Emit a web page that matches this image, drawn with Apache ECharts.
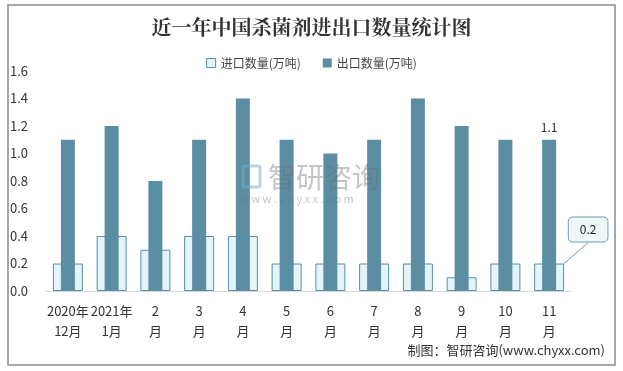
<!DOCTYPE html>
<html><head><meta charset="utf-8">
<script src="https://cdn.jsdelivr.net/npm/echarts@6/dist/echarts.min.js"></script>
<style>html,body{margin:0;padding:0;background:#fff}#c{width:623px;height:371px}</style>
</head><body><div id="c"></div>
<script>
const categories = ['2020年\n12月','2021年\n1月','2\n月','3\n月','4\n月','5\n月','6\n月','7\n月','8\n月','9\n月','10\n月','11\n月'];
const importValues = [0.2,0.4,0.3,0.4,0.4,0.2,0.2,0.2,0.2,0.1,0.2,0.2];
const exportValues = [1.1,1.2,0.8,1.1,1.4,1.1,1.0,1.1,1.4,1.2,1.1,1.1];
const yTicks = [0,0.2,0.4,0.6,0.8,1.0,1.2,1.4,1.6];

const font = '"Microsoft YaHei","Noto Sans CJK SC",sans-serif';
const chart = echarts.init(document.getElementById('c'));
const last = categories.length - 1;
chart.setOption({
  animation: false,
  textStyle: {fontFamily: font},
  title: {
    text: '近一年中国杀菌剂进出口数量统计图',
    left: 'center', top: 12,
    textStyle: {fontSize: 20, fontWeight: 'bold', color: '#333', fontFamily: '"Noto Serif CJK SC","Noto Sans CJK SC",serif'}
  },
  legend: {
    top: 52, left: 'center', itemWidth: 9, itemHeight: 9, itemGap: 22,
    textStyle: {fontSize: 12, color: '#444'},
    data: [
      {name: '进口数量(万吨)', icon: 'rect', itemStyle: {color: '#e3f5fa', borderColor: '#5b8ea3', borderWidth: 1}},
      {name: '出口数量(万吨)', icon: 'rect'}
    ]
  },
  grid: {left: 46, right: 52, top: 71, bottom: 80},
  xAxis: [{
    type: 'category', data: categories,
    axisLine: {lineStyle: {color: '#d9d9d9'}},
    axisTick: {show: false},
    axisLabel: {color: '#333', fontSize: 13, lineHeight: 20, margin: 10, interval: 0}
  }, {
    type: 'category', data: categories, show: false
  }],
  yAxis: {
    type: 'value', min: yTicks[0], max: yTicks[yTicks.length-1], interval: 0.2,
    splitLine: {show: false}, axisLine: {show: false}, axisTick: {show: false},
    axisLabel: {color: '#333', fontSize: 13, align: 'left', margin: 36, formatter: v => v.toFixed(1)}
  },
  graphic: [
    {type: 'rect', shape: {x: 8, y: 5, width: 607, height: 360}, style: {fill: 'none', stroke: '#8c8c8c', lineWidth: 1.5}, silent: true},
    {type: 'rect', z: 100, shape: {x: 243, y: 166, width: 17, height: 21, r: 2}, style: {fill: 'none', stroke: 'rgba(120,170,210,0.5)', lineWidth: 3}, silent: true},
    {type: 'text', z: 100, left: 268, top: 163, style: {text: '智研咨询', fontSize: 28, fill: 'rgba(110,110,110,0.4)', fontFamily: font}, silent: true},
    {type: 'text', z: 100, left: 240, top: 193, style: {text: 'w w w . c h y x x . c o m', fontSize: 11, fill: 'rgba(110,110,110,0.4)', fontFamily: font}, silent: true},
    {type: 'text', right: 18, top: 344, style: {text: '制图：智研咨询(www.chyxx.com)', fontSize: 13, fill: '#333', fontFamily: font}, silent: true}
  ],
  series: [
    {
      name: '进口数量(万吨)', type: 'bar', barWidth: 30, xAxisIndex: 0,
      itemStyle: {color: '#e3f5fa', borderColor: '#5b8ea3', borderWidth: 1},
      data: importValues.map((v, i) => i === last ? {
        value: v,
        label: {show: true, position: 'top', formatter: '{c}', fontSize: 12, color: '#222',
          backgroundColor: '#eef8fa', borderColor: '#6f9db0', borderWidth: 1, borderRadius: 4, padding: [6, 11]}
      } : v),
      labelLayout: p => p.dataIndex === last ? {dx: 39, dy: -17} : {},
      labelLine: {show: true, lineStyle: {color: '#6f9db0', width: 1}},
      z: 1
    },
    {
      name: '出口数量(万吨)', type: 'bar', barWidth: 14, xAxisIndex: 1,
      itemStyle: {color: '#5b8ea3'},
      data: exportValues.map((v, i) => i === last ? {
        value: v, label: {show: true, position: 'top', fontSize: 12, color: '#333', distance: 6}
      } : v),
      z: 2
    }
  ]
});
</script></body></html>
